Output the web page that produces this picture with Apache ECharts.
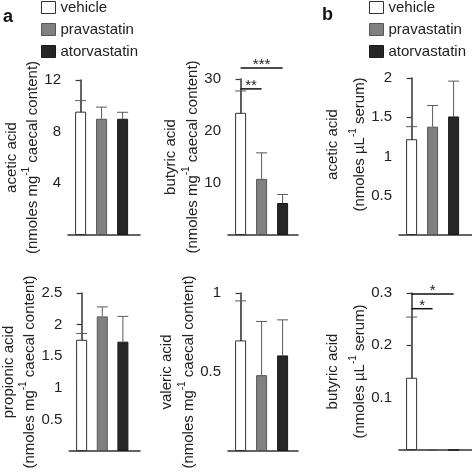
<!DOCTYPE html>
<html>
<head>
<meta charset="utf-8">
<script src="https://cdn.jsdelivr.net/npm/echarts@6/dist/echarts.min.js"></script>
<style>html,body{margin:0;padding:0;background:#fff}#c{width:472px;height:472px}</style>
</head>
<body>
<div id="c"></div>
<script>
// ---- data ----
const treatments = ['vehicle', 'pravastatin', 'atorvastatin'];

const aceticCaecalMean = [9.55, 9.0, 9.0];
const aceticCaecalSD = [0.85, 0.9, 0.5];
const butyricCaecalMean = [23.5, 10.8, 6.15];
const butyricCaecalSD = [4.2, 5.0, 1.65];
const aceticSerumMean = [1.22, 1.38, 1.51];
const aceticSerumSD = [0.16, 0.27, 0.45];
const propionicCaecalMean = [1.76, 2.13, 1.73];
const propionicCaecalSD = [0.10, 0.15, 0.40];
const valericCaecalMean = [0.70, 0.48, 0.605];
const valericCaecalSD = [0.25, 0.34, 0.225];
const butyricSerumMean = [0.138, 0, 0];
const butyricSerumSD = [0.116, null, null];

const ticksAceticCaecal = [4, 8, 12];
const ticksButyricCaecal = [10, 20, 30];
const ticksAceticSerum = [0.5, 1, 1.5, 2];
const ticksPropionic = [0.5, 1, 1.5, 2, 2.5];
const ticksValeric = [0.5, 1];
const ticksButyricSerum = [0.1, 0.2, 0.3];

// significance brackets: [fromIndex, toIndex, yValue]
const butyricCaecalSig = [[0, 1, 28.1], [0, 2, 32.1]];
const butyricCaecalSigMarks = ['**', '***'];
const butyricSerumSig = [[0, 1, 0.27], [0, 2, 0.298]];
const butyricSerumSigMarks = ['*', '*'];

// ---- styling ----
const FONT = '"Liberation Sans", Arial, Helvetica, sans-serif';
const TXT = '#222';
const AX = '#333';
const fills = ['#ffffff', '#808080', '#262626'];
const borders = ['#333333', '#555555', '#1a1a1a'];

const panels = [
  {mean: aceticCaecalMean, sd: aceticCaecalSD, ticks: ticksAceticCaecal, max: 12,
   grid: {left: 68, top: 80, width: 72, height: 155},
   name: '{a|acetic acid}\n{b|(nmoles mg}{s|-1}{b| caecal content)}', gap: 27, pad: 0, lh: 19},
  {mean: butyricCaecalMean, sd: butyricCaecalSD, ticks: ticksButyricCaecal, max: 30,
   grid: {left: 228, top: 79, width: 70, height: 156},
   name: '{a|butyric acid}\n{b|(nmoles mg}{s|-1}{b| caecal content)}', gap: 28, pad: 0, lh: 21},
  {mean: aceticSerumMean, sd: aceticSerumSD, ticks: ticksAceticSerum, max: 2,
   grid: {left: 399, top: 78, width: 73, height: 157},
   name: '{a|acetic acid}\n{b|(nmoles µL}{s|-1}{b| serum)}', gap: 25, pad: 24, lh: 31},
  {mean: propionicCaecalMean, sd: propionicCaecalSD, ticks: ticksPropionic, max: 2.5,
   grid: {left: 68, top: 293, width: 72, height: 158},
   name: '{a|propionic acid}\n{b|(nmoles mg}{s|-1}{b| caecal content)}', gap: 27, pad: 0, lh: 20},
  {mean: valericCaecalMean, sd: valericCaecalSD, ticks: ticksValeric, max: 1,
   grid: {left: 228, top: 293, width: 70, height: 158},
   name: '{a|valeric acid}\n{b|(nmoles mg}{s|-1}{b| caecal content)}', gap: 28, pad: 0, lh: 20},
  {mean: butyricSerumMean, sd: butyricSerumSD, ticks: ticksButyricSerum, max: 0.3,
   grid: {left: 399, top: 293, width: 73, height: 157},
   name: '{a|butyric acid}\n{b|(nmoles µL}{s|-1}{b| serum)}', gap: 25, pad: 0, lh: 31,
   sig: butyricSerumSig, sigMarks: butyricSerumSigMarks}
];
panels[1].sig = butyricCaecalSig;
panels[1].sigMarks = butyricCaecalSigMarks;

const PX_PER_CAT = 21;
const grids = [], xAxes = [], yAxes = [], series = [];

panels.forEach((p, k) => {
  grids.push(Object.assign({containLabel: false}, p.grid));
  xAxes.push({
    type: 'value', gridIndex: k, min: -0.6, max: p.grid.width / PX_PER_CAT - 0.6,
    axisLine: {show: true, onZero: false, lineStyle: {color: AX, width: 1.5}},
    axisTick: {show: false}, axisLabel: {show: false}, splitLine: {show: false}
  });
  yAxes.push({
    type: 'value', gridIndex: k, min: 0, max: p.max,
    axisLine: {show: true, lineStyle: {color: AX, width: 1.5}},
    axisTick: {show: true, length: 5, lineStyle: {color: AX, width: 1.2}, customValues: p.ticks},
    axisLabel: {show: true, margin: 7, color: TXT, fontSize: 15, fontFamily: FONT, customValues: p.ticks},
    splitLine: {show: false},
    name: p.name, nameLocation: 'middle', nameRotate: 90, nameGap: p.gap,
    nameTextStyle: {
      fontFamily: FONT, color: TXT, padding: [0, 0, 0, p.pad],
      rich: {
        a: {fontSize: 15, lineHeight: p.lh, fontFamily: FONT, color: TXT},
        b: {fontSize: 15, lineHeight: 19, fontFamily: FONT, color: TXT, verticalAlign: 'bottom'},
        s: {fontSize: 10, lineHeight: 10, fontFamily: FONT, color: TXT, verticalAlign: 'top'}
      }
    }
  });
  treatments.forEach((t, i) => {
    series.push({
      type: 'bar', name: t, xAxisIndex: k, yAxisIndex: k, stack: 'p' + k,
      barWidth: 11, data: [[i, p.mean[i]]],
      itemStyle: {color: fills[i], borderColor: borders[i], borderWidth: 1},
      emphasis: {disabled: true}, z: 3
    });
  });
  const errData = [];
  p.mean.forEach((m, i) => { if (p.sd[i] != null) errData.push([i, m, p.sd[i]]); });
  series.push({
    type: 'custom', xAxisIndex: k, yAxisIndex: k, z: 2, clip: false, silent: true,
    data: errData,
    renderItem: function (params, api) {
      const x = api.value(0), m = api.value(1), e = api.value(2);
      const p0 = api.coord([x, m]), p1 = api.coord([x, m + e]);
      const w = 11;
      const st = {stroke: '#5a5a5a', lineWidth: 1};
      return {type: 'group', children: [
        {type: 'line', shape: {x1: p0[0], y1: p0[1], x2: p1[0], y2: p1[1]}, style: st},
        {type: 'line', shape: {x1: p1[0] - w / 2, y1: p1[1], x2: p1[0] + w / 2, y2: p1[1]}, style: st}
      ]};
    }
  });
  if (p.sig) {
    const marks = p.sigMarks;
    series.push({
      type: 'custom', xAxisIndex: k, yAxisIndex: k, z: 4, clip: false, silent: true,
      data: p.sig,
      renderItem: function (params, api) {
        const a = api.coord([api.value(0), api.value(2)]);
        const b = api.coord([api.value(1), api.value(2)]);
        return {type: 'group', children: [
          {type: 'line', shape: {x1: a[0], y1: a[1], x2: b[0], y2: b[1]}, style: {stroke: '#111', lineWidth: 1.5}},
          {type: 'text', x: (a[0] + b[0]) / 2, y: a[1] - 3,
           style: {text: marks[params.dataIndex], fill: '#222', font: '15px ' + FONT, align: 'center', verticalAlign: 'middle'}}
        ]};
      }
    });
  }
});

const legendData = treatments.map((t, i) => ({
  name: t, icon: 'rect', itemStyle: {color: fills[i], borderColor: borders[i], borderWidth: 1}
}));
const legendCommon = {
  orient: 'vertical', top: 0, padding: 0, itemWidth: 14, itemHeight: 12, itemGap: 7,
  selectedMode: false, data: legendData,
  textStyle: {fontFamily: FONT, fontSize: 15, color: TXT, lineHeight: 12}
};

const option = {
  animation: false,
  backgroundColor: '#fff',
  title: [
    {text: 'a', left: 3, top: 8, padding: 0, textStyle: {fontFamily: FONT, fontWeight: 'bold', fontSize: 18, color: '#111'}},
    {text: 'b', left: 322, top: 6, padding: 0, textStyle: {fontFamily: FONT, fontWeight: 'bold', fontSize: 18, color: '#111'}}
  ],
  legend: [
    Object.assign({left: 41}, legendCommon),
    Object.assign({left: 369}, legendCommon)
  ],
  grid: grids, xAxis: xAxes, yAxis: yAxes, series: series
};

const chart = echarts.init(document.getElementById('c'), null, {renderer: 'canvas'});
chart.setOption(option);
</script>
</body>
</html>
